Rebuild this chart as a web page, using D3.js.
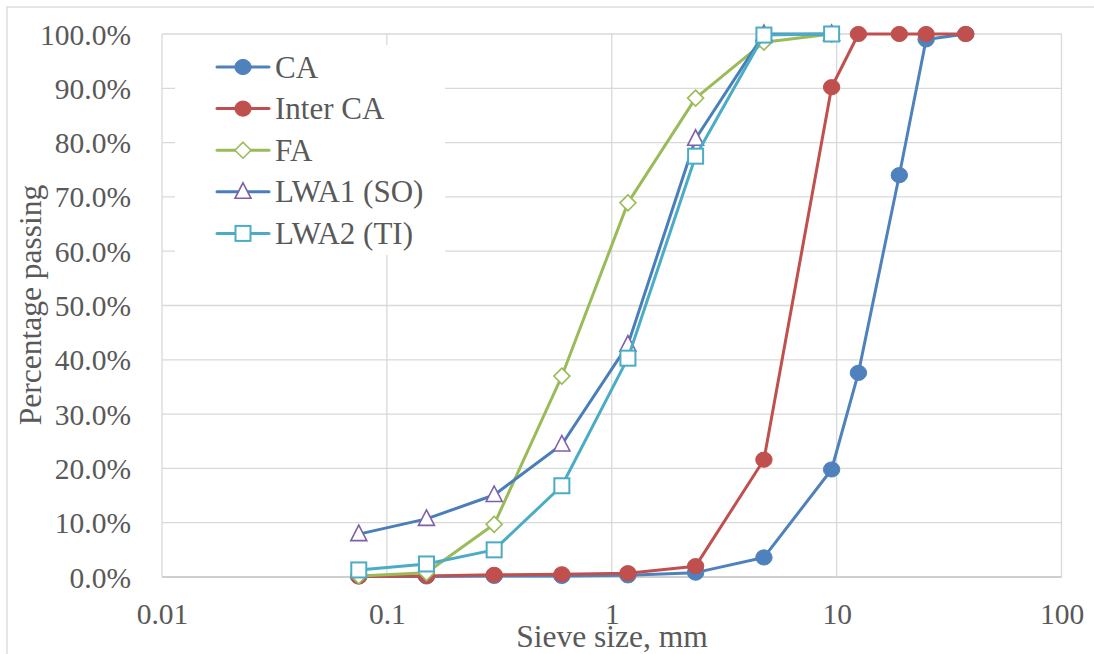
<!DOCTYPE html>
<html>
<head>
<meta charset="utf-8">
<script src="https://cdn.jsdelivr.net/npm/d3@7"></script>
<style>
  html, body { margin: 0; padding: 0; background: #fff; }
  svg { display: block; }
  svg text { font-family: "Liberation Serif", "Tinos", "Times New Roman", Times, "DejaVu Serif", "Noto Serif", serif !important; }
</style>
</head>
<body>
<svg id="chart" width="1094" height="654"></svg>
<script>
// Sieve analysis: percentage passing versus sieve opening (mm)
const seriesNames = ["CA", "Inter CA", "FA", "LWA1 (SO)", "LWA2 (TI)"];

const caSizes      = [0.075, 0.15, 0.3, 0.6, 1.18, 2.36, 4.75, 9.5, 12.5, 19, 25, 37.5];
const caPassing    = [0.1, 0.1, 0.2, 0.2, 0.3, 0.8, 3.6, 19.8, 37.6, 74.0, 99.0, 100];

const interSizes   = [0.075, 0.15, 0.3, 0.6, 1.18, 2.36, 4.75, 9.5, 12.5, 19, 25, 37.5];
const interPassing = [0.1, 0.2, 0.4, 0.5, 0.7, 2.0, 21.6, 90.2, 100, 100, 100, 100];

const faSizes      = [0.075, 0.15, 0.3, 0.6, 1.18, 2.36, 4.75, 9.5];
const faPassing    = [0.2, 0.8, 9.7, 37.0, 68.9, 88.2, 98.5, 100];

const lwa1Sizes    = [0.075, 0.15, 0.3, 0.6, 1.18, 2.36, 4.75, 9.5];
const lwa1Passing  = [7.9, 10.7, 15.1, 24.4, 42.8, 80.7, 100, 100];

const lwa2Sizes    = [0.075, 0.15, 0.3, 0.6, 1.18, 2.36, 4.75, 9.5];
const lwa2Passing  = [1.3, 2.4, 5.0, 16.8, 40.3, 77.5, 99.8, 100];

const xTickValues  = [0.01, 0.1, 1, 10, 100];
const xTickLabels  = ["0.01", "0.1", "1", "10", "100"];
const yTickValues  = [0, 10, 20, 30, 40, 50, 60, 70, 80, 90, 100];

const xTitle = "Sieve size, mm";
const yTitle = "Percentage passing";

// visual style per series
const styles = [
  { line: "#4F81BD", stroke: "#4F81BD", fill: "#4F81BD", marker: "circle" },
  { line: "#C0504D", stroke: "#C0504D", fill: "#C0504D", marker: "circle" },
  { line: "#9BBB59", stroke: "#9BBB59", fill: "#FFFFFF", marker: "diamond" },
  { line: "#4A7EBB", stroke: "#7F60A8", fill: "#FFFFFF", marker: "triangle" },
  { line: "#4BACC6", stroke: "#4BACC6", fill: "#FFFFFF", marker: "square" }
];

const series = [
  { name: seriesNames[0], sizes: caSizes, values: caPassing },
  { name: seriesNames[1], sizes: interSizes, values: interPassing },
  { name: seriesNames[2], sizes: faSizes, values: faPassing },
  { name: seriesNames[3], sizes: lwa1Sizes, values: lwa1Passing },
  { name: seriesNames[4], sizes: lwa2Sizes, values: lwa2Passing }
].map((s, i) => ({ ...s, style: styles[i], points: s.sizes.map((d, j) => ({ x: d, y: s.values[j] })) }));

const svg = d3.select("#chart");
const plot = { left: 162, right: 1061.5, top: 34, bottom: 577 };
const textColor = "#595959";
const gridColor = "#D9D9D9";
const serif = "'Liberation Serif', Tinos, 'Times New Roman', Times, 'DejaVu Serif', 'Noto Serif', serif";

// outer chart frame
svg.append("rect")
  .attr("x", 7).attr("y", 7).attr("width", 1100).attr("height", 660)
  .attr("fill", "none").attr("stroke", gridColor).attr("stroke-width", 1.3);

const x = d3.scaleLog().domain([0.01, 100]).range([plot.left, plot.right]);
const y = d3.scaleLinear().domain([0, 100]).range([plot.bottom, plot.top]);

// gridlines
const grid = svg.append("g");
grid.selectAll("line.h").data(yTickValues).join("line")
  .attr("x1", plot.left).attr("x2", plot.right)
  .attr("y1", d => y(d)).attr("y2", d => y(d))
  .attr("stroke", d => d === 0 ? "#BFBFBF" : gridColor)
  .attr("stroke-width", d => d === 0 ? 1.6 : 1.3);
grid.selectAll("line.v").data(xTickValues).join("line")
  .attr("x1", d => x(d)).attr("x2", d => x(d))
  .attr("y1", plot.top).attr("y2", plot.bottom)
  .attr("stroke", gridColor).attr("stroke-width", 1.3);

// axes (labels only; gridlines drawn above)
const yAxis = d3.axisLeft(y).tickValues(yTickValues).tickSize(0).tickPadding(0)
  .tickFormat(d => d.toFixed(1) + "%");
const gy = svg.append("g").attr("transform", "translate(131,0)").call(yAxis)
  .attr("font-family", serif);
gy.select(".domain").remove();
gy.selectAll("text")
  .attr("fill", textColor).attr("font-size", "29.5px")
  .style("font-family", serif)
  .attr("dy", "0.34em");

const xAxis = d3.axisBottom(x).tickValues(xTickValues).tickSize(0).tickPadding(0)
  .tickFormat((d, i) => xTickLabels[i]);
const gx = svg.append("g").attr("transform", "translate(0,624)").call(xAxis)
  .attr("font-family", serif);
gx.select(".domain").remove();
gx.selectAll("text")
  .attr("fill", textColor).attr("font-size", "29.5px")
  .style("font-family", serif)
  .attr("dy", 0).attr("y", 0);

// axis titles
svg.append("text")
  .attr("x", 612).attr("y", 647)
  .attr("text-anchor", "middle")
  .attr("fill", textColor).attr("font-size", "31.5px")
  .style("font-family", serif)
  .text(xTitle);
svg.append("text")
  .attr("transform", "translate(41,305) rotate(-90)")
  .attr("text-anchor", "middle")
  .attr("fill", textColor).attr("font-size", "31.5px")
  .style("font-family", serif)
  .text(yTitle);

// marker shapes
function drawMarker(g, kind, cx, cy, st) {
  const h = 8;
  if (kind === "circle") {
    g.append("ellipse").attr("cx", cx).attr("cy", cy).attr("rx", 8.2).attr("ry", 7.6)
      .attr("fill", st.fill).attr("stroke", st.stroke).attr("stroke-width", 1);
  } else if (kind === "square") {
    g.append("rect").attr("x", cx - 7.5).attr("y", cy - 7.5).attr("width", 15).attr("height", 15)
      .attr("fill", st.fill).attr("stroke", st.stroke).attr("stroke-width", 2);
  } else if (kind === "diamond") {
    g.append("path")
      .attr("d", `M${cx},${cy - h}L${cx + h},${cy}L${cx},${cy + h}L${cx - h},${cy}Z`)
      .attr("fill", st.fill).attr("stroke", st.stroke).attr("stroke-width", 1.6);
  } else if (kind === "triangle") {
    g.append("path")
      .attr("d", `M${cx},${cy - 9}L${cx + 8},${cy + 6.5}L${cx - 8},${cy + 6.5}Z`)
      .attr("fill", st.fill).attr("stroke", st.stroke).attr("stroke-width", 1.6);
  }
}

// legend background (hides gridlines behind it)
svg.append("rect")
  .attr("x", 175).attr("y", 45).attr("width", 270).attr("height", 210)
  .attr("fill", "#fff");

// series: line then markers, in series order
const line = d3.line().x(d => x(d.x)).y(d => y(d.y));
series.forEach(s => {
  const g = svg.append("g");
  g.append("path").datum(s.points)
    .attr("d", line).attr("fill", "none")
    .attr("stroke", s.style.line).attr("stroke-width", 3)
    .attr("stroke-linejoin", "round").attr("stroke-linecap", "round");
  s.points.forEach(p => drawMarker(g, s.style.marker, x(p.x), y(p.y), s.style));
});

// legend entries
const legend = svg.append("g");
series.forEach((s, i) => {
  const cy = 67 + i * 41.6;
  legend.append("line")
    .attr("x1", 217).attr("x2", 269).attr("y1", cy).attr("y2", cy)
    .attr("stroke", s.style.line).attr("stroke-width", 3).attr("stroke-linecap", "round");
  drawMarker(legend, s.style.marker, 243, cy, s.style);
  legend.append("text")
    .attr("x", 275).attr("y", cy + 10.5)
    .attr("fill", textColor).attr("font-size", "31px")
    .style("font-family", serif)
    .text(s.name);
});
</script>
</body>
</html>
